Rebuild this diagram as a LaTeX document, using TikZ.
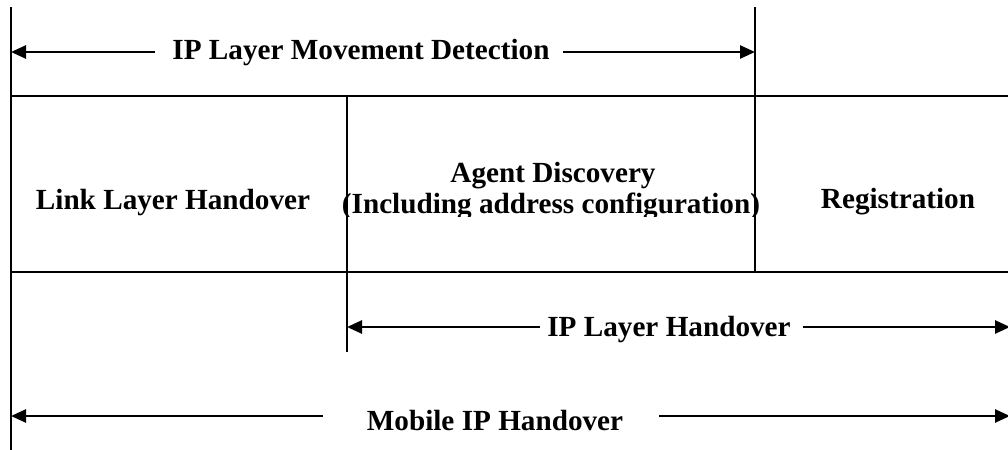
\documentclass[tikz,border=0pt]{standalone}
\usepackage{fontspec}
\setmainfont{Liberation Serif}
\usetikzlibrary{arrows.meta}
\begin{document}
\begin{tikzpicture}[x=0.5pt,y=-0.5pt,
  rule/.style={line width=1.1pt},
  arr/.style={line width=1.3pt,-{Triangle[length=7.5pt,width=6.5pt]}},
  lbl/.style={font=\fontsize{14.6}{16}\selectfont\bfseries,inner sep=0pt,anchor=base}]
\useasboundingbox (0,0) rectangle (1008,450);
% frame lines
\coordinate (lt) at (11,7);
\coordinate (lb) at (11,450);
\coordinate (rt) at (755,7);
\coordinate (rb) at (755,272);
\coordinate (mt) at (347,96);
\coordinate (mb) at (347,352);
\coordinate (h1l) at (11,96);
\coordinate (h1r) at (1008,96);
\coordinate (h2l) at (11,272);
\coordinate (h2r) at (1008,272);
\draw[rule] (lt) -- (lb);
\draw[rule] (rt) -- (rb);
\draw[rule] (mt) -- (mb);
\draw[rule] (h1l) -- (h1r);
\draw[rule] (h2l) -- (h2r);
% cell labels
\node[lbl] (link) at (173,209) {Link Layer Handover};
\node[lbl] (agent) at (553,182) {Agent Discovery};
\begin{scope}
\clip (300,185) rectangle (800,216.5);
\node[lbl] (incl) at (551,213) {(Including address configuration)};
\end{scope}
\node[lbl] (reg) at (898,208) {Registration};
% top arrow
\node[lbl] (mdet) at (361,59) {IP Layer Movement Detection};
\coordinate (md1) at (155,52);
\coordinate (md2) at (563,52);
\coordinate (mdL) at (11,52);
\coordinate (mdR) at (755,52);
\draw[arr] (md1) -- (mdL);
\draw[arr] (md2) -- (mdR);
% IP layer handover
\node[lbl] (iph) at (669,336) {IP Layer Handover};
\coordinate (ih1) at (540,327);
\coordinate (ih2) at (803,327);
\coordinate (ihL) at (347,327);
\coordinate (ihR) at (1010,327);
\draw[arr] (ih1) -- (ihL);
\draw[arr] (ih2) -- (ihR);
% Mobile IP handover
\node[lbl] (mip) at (495,430) {Mobile IP Handover};
\coordinate (mi1) at (323,416);
\coordinate (mi2) at (659,416);
\coordinate (miL) at (11,416);
\coordinate (miR) at (1010,416);
\draw[arr] (mi1) -- (miL);
\draw[arr] (mi2) -- (miR);
\end{tikzpicture}
\end{document}
